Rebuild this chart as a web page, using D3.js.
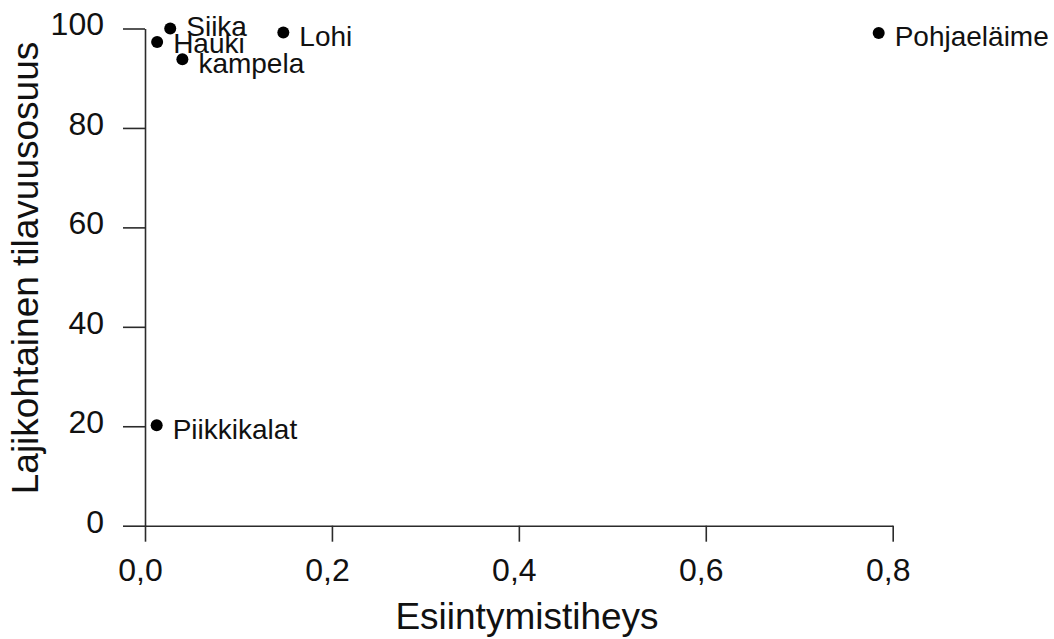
<!DOCTYPE html>
<html>
<head>
<meta charset="utf-8">
<script src="https://cdn.jsdelivr.net/npm/d3@7/dist/d3.min.js"></script>
<style>
  html, body { margin: 0; padding: 0; background: #fff; }
  svg { display: block; font-family: "Liberation Sans", Arial, sans-serif; }
</style>
</head>
<body>
<svg id="chart" width="1054" height="639"></svg>
<script>
// Species and their values
const species = ["Siika", "Hauki", "kampela", "Lohi", "Pohjaeläime", "Piikkikalat"];
const frequency = [0.027, 0.013, 0.040, 0.148, 0.785, 0.0125];   // Esiintymistiheys
const volumeShare = [100, 97.3, 93.8, 99.2, 99.1, 20.2];        // Lajikohtainen tilavuusosuus

const xTicks = [0, 0.2, 0.4, 0.6, 0.8];
const yTicks = [0, 20, 40, 60, 80, 100];
const xTitle = "Esiintymistiheys";
const yTitle = "Lajikohtainen tilavuusosuus";

// Vertical nudges for labels in the crowded top-left corner
const labelNudge = { "Siika": -6, "Hauki": -2 };

const svg = d3.select("#chart");

const x = d3.scaleLinear().domain([0, 0.8]).range([145, 892.7]);
const y = d3.scaleLinear().domain([0, 100]).range([525.7, 28.5]);

const fmt = d => d3.format(".1f")(d).replace(".", ",");
const axisColor = "#2b2b2b";

// X axis
const gx = svg.append("g")
  .attr("transform", `translate(0,${y(0)})`)
  .call(d3.axisBottom(x).tickValues(xTicks).tickFormat(fmt).tickSize(16).tickSizeOuter(0).tickPadding(17));
gx.select(".domain").attr("stroke", axisColor).attr("stroke-width", 1.6);
gx.selectAll(".tick line").attr("stroke", axisColor).attr("stroke-width", 1.6);
gx.selectAll(".tick text")
  .attr("font-size", 32).attr("fill", "#111").attr("font-family", "Liberation Sans, Arial, sans-serif")
  .attr("dx", -5);

// Y axis
const gy = svg.append("g")
  .attr("transform", `translate(${x(0)},0)`)
  .call(d3.axisLeft(y).tickValues(yTicks).tickFormat(d3.format("d")).tickSize(22).tickSizeOuter(0).tickPadding(19));
gy.select(".domain").attr("stroke", axisColor).attr("stroke-width", 1.6);
gy.selectAll(".tick line").attr("stroke", axisColor).attr("stroke-width", 1.6);
gy.selectAll(".tick text")
  .attr("font-size", 32).attr("fill", "#111").attr("font-family", "Liberation Sans, Arial, sans-serif")
  .attr("dy", "0.2em");

// Axis titles
svg.append("text")
  .attr("x", 527).attr("y", 629)
  .attr("text-anchor", "middle")
  .attr("font-size", 37).attr("fill", "#111")
  .text(xTitle);

svg.append("text")
  .attr("transform", `translate(38,268) rotate(-90)`)
  .attr("text-anchor", "middle")
  .attr("font-size", 37).attr("fill", "#111")
  .text(yTitle);

// Points and labels
const data = species.map((s, i) => ({ name: s, fx: frequency[i], vy: volumeShare[i] }));

svg.append("g").selectAll("circle")
  .data(data).join("circle")
  .attr("cx", d => x(d.fx))
  .attr("cy", d => y(d.vy))
  .attr("r", 6)
  .attr("fill", "#000");

svg.append("g").selectAll("text")
  .data(data).join("text")
  .attr("x", d => x(d.fx) + 16)
  .attr("y", d => y(d.vy) + 13.5 + (labelNudge[d.name] || 0))
  .attr("font-size", 28).attr("fill", "#111")
  .text(d => d.name);
</script>
</body>
</html>
